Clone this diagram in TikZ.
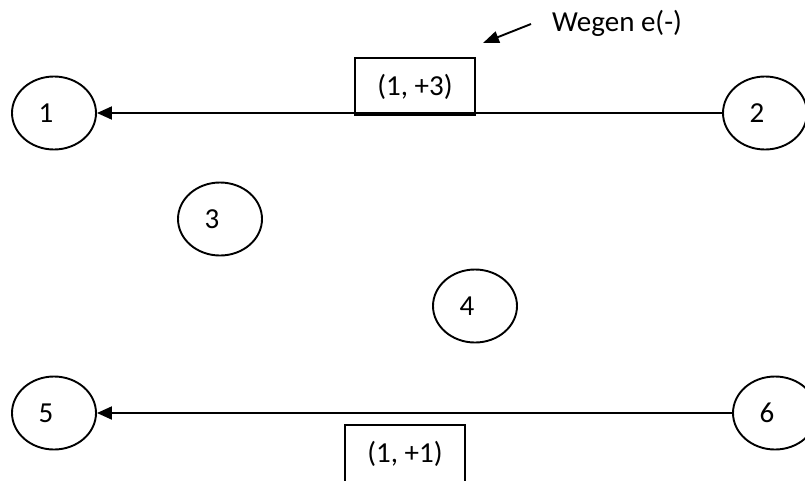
\documentclass[tikz,border=0pt]{standalone}
\usepackage{fontspec}
\setmainfont{Carlito}
\usetikzlibrary{shapes.geometric,arrows.meta}
\tikzset{
  x=1pt, y=-1pt,
  every node/.style={font=\fontsize{29}{33}\selectfont},
  st/.style={draw, ellipse, line width=1.9pt, minimum width=84pt, minimum height=73pt, inner sep=0pt},
  lb/.style={label={[xshift=-8pt,inner sep=0pt]center:#1}},
  conn/.style={line width=1.9pt, -{Triangle[length=15pt,width=13pt]}},
  pbox/.style={draw, line width=1.9pt, minimum width=120pt, minimum height=57pt, inner sep=0pt, anchor=north west}
}
\begin{document}
\begin{tikzpicture}
\useasboundingbox (0,0) rectangle (805,480);
\node[st, lb=1] (n1) at (54,113) {};
\node[st, lb=2] (n2) at (765,113) {};
\node[st, lb=3] (n3) at (220,219) {};
\node[st, lb=4] (n4) at (475,306) {};
\node[st, lb=5] (n5) at (54,413) {};
\node[st, lb=6] (n6) at (775,413) {};
\draw[conn] (n2) -- (n1);
\draw[conn] (n6) -- (n5);
\node[pbox] (b1) at (354,57) {(1, +3)};
\node[pbox] (b2) at (344,424) {(1, +1)};
\node[anchor=base west, inner sep=0pt] (w) at (552,31) {Wegen e(-)};
\coordinate (wa) at (531,24);
\coordinate (wb) at (483,43);
\draw[line width=1.9pt, -{Triangle[length=16pt,width=12pt]}] (wa) -- (wb);
\end{tikzpicture}
\end{document}
